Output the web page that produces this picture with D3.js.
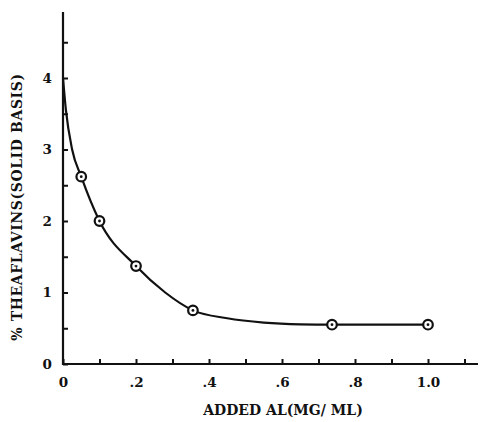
<!DOCTYPE html>
<html>
<head>
<meta charset="utf-8">
<script src="https://cdn.jsdelivr.net/npm/d3@7"></script>
<style>
  html, body { margin: 0; padding: 0; background: #fff; }
  svg { display: block; }
  text { font-family: "DejaVu Serif", serif; font-weight: bold; fill: #111; }
</style>
</head>
<body>
<svg id="chart" width="480" height="422"></svg>
<script>
// Measured theaflavin content vs. added aluminium
const addedAl = [0.05, 0.10, 0.20, 0.356, 0.737, 1.0];
const theaflavins = [2.62, 2.00, 1.37, 0.75, 0.55, 0.55];

// Hand-drawn fitted curve through the measurements
const curveX = [0.0, 0.008, 0.025, 0.05, 0.10, 0.20, 0.28, 0.356, 0.45, 0.55, 0.65, 0.737, 0.85, 1.0];
const curveY = [4.0, 3.55, 3.0, 2.62, 2.00, 1.37, 1.00, 0.75, 0.64, 0.58, 0.555, 0.55, 0.55, 0.55];

// Axis ticks and labels
const xTicks = [0, 0.1, 0.2, 0.3, 0.4, 0.5, 0.6, 0.7, 0.8, 0.9, 1.0, 1.1];
const xTickLabels = ["0", "", ".2", "", ".4", "", ".6", "", ".8", "", "1.0", ""];
const yTicks = [0, 0.5, 1, 1.5, 2, 2.5, 3, 3.5, 4, 4.5];
const yTickLabels = ["0", "", "1", "", "2", "", "3", "", "4", ""];

const xTitle = "ADDED AL(MG/ ML)";
const yTitle = "% THEAFLAVINS(SOLID  BASIS)";

const svg = d3.select("#chart");

const x = d3.scaleLinear().domain([0, 1.1]).range([63, 464.5]);
const y = d3.scaleLinear().domain([0, 4]).range([364, 78]);

const ink = "#111";
const serif = '"DejaVu Serif", serif';

// x axis
const xAxis = d3.axisBottom(x)
  .tickValues(xTicks)
  .tickSizeInner(-5)
  .tickSizeOuter(0)
  .tickPadding(13)
  .tickFormat((d, i) => xTickLabels[i]);

const gx = svg.append("g").attr("transform", `translate(0,${y(0)})`).call(xAxis);
gx.attr("font-family", serif);
gx.select(".domain").remove();
gx.selectAll(".tick line").attr("stroke", ink).attr("stroke-width", 2);
gx.selectAll(".tick text").attr("font-size", 13.5).attr("fill", ink);
svg.append("line")
  .attr("x1", x(0) - 1).attr("x2", 478)
  .attr("y1", y(0)).attr("y2", y(0))
  .attr("stroke", ink).attr("stroke-width", 2.2);

// y axis
const yAxis = d3.axisLeft(y)
  .tickValues(yTicks)
  .tickSizeInner(-5)
  .tickSizeOuter(0)
  .tickPadding(11)
  .tickFormat((d, i) => yTickLabels[i]);

const gy = svg.append("g").attr("transform", `translate(${x(0)},0)`).call(yAxis);
gy.attr("font-family", serif);
gy.select(".domain").remove();
gy.selectAll(".tick line").attr("stroke", ink).attr("stroke-width", 2);
gy.selectAll(".tick text").attr("font-size", 13.5).attr("fill", ink);
svg.append("line")
  .attr("x1", x(0)).attr("x2", x(0))
  .attr("y1", 12).attr("y2", y(0) + 1)
  .attr("stroke", ink).attr("stroke-width", 2.2);

// fitted curve
const curvePts = curveX.map((d, i) => [d, curveY[i]]);
const line = d3.line()
  .x(d => x(d[0]))
  .y(d => y(d[1]))
  .curve(d3.curveMonotoneX);

svg.append("path")
  .datum(curvePts)
  .attr("d", line)
  .attr("fill", "none")
  .attr("stroke", ink)
  .attr("stroke-width", 2.2);

// measured points: open rings with a dark centre
const pts = addedAl.map((d, i) => [d, theaflavins[i]]);
const marks = svg.append("g").selectAll("g").data(pts).join("g")
  .attr("transform", d => `translate(${x(d[0])},${y(d[1])})`);
marks.append("circle").attr("r", 4.8)
  .attr("fill", "#fff").attr("stroke", ink).attr("stroke-width", 2.2);
marks.append("circle").attr("r", 1.4).attr("fill", ink);

// axis titles
svg.append("text")
  .attr("x", 283).attr("y", 415)
  .attr("text-anchor", "middle")
  .attr("font-size", 14)
  .text(xTitle);

svg.append("text")
  .attr("transform", "translate(22,207) rotate(-90)")
  .attr("text-anchor", "middle")
  .attr("font-size", 14)
  .attr("letter-spacing", 0.6)
  .text(yTitle);
</script>
</body>
</html>
